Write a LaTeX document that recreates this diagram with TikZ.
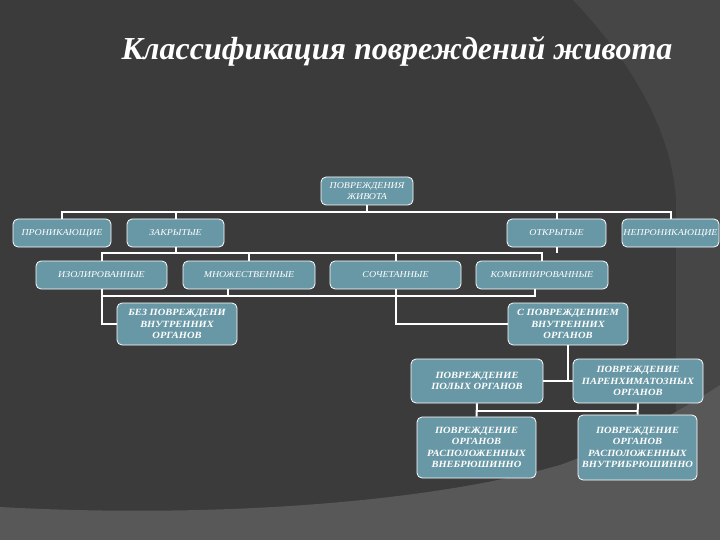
\documentclass[tikz,border=0pt]{standalone}
\usepackage{fontspec}
\setmainfont{Liberation Serif}
\newfontfamily\boxfont[FakeStretch=1.1]{Liberation Serif}
\definecolor{bgmain}{RGB}{59,59,59}
\definecolor{bgright}{RGB}{70,70,70}
\definecolor{bgbottom}{RGB}{88,88,88}
\definecolor{boxc}{RGB}{104,152,166}
\begin{document}
\begin{tikzpicture}[x=1pt,y=-1pt,
  box/.style={draw=white, line width=0.8pt, fill=boxc, rounded corners=5pt, text=white,
    align=center, inner sep=1pt, minimum height=28pt,
    font=\boxfont\itshape\fontsize{9}{10.5}\selectfont},
  boxb/.style={box, font=\boxfont\bfseries\itshape\fontsize{9.5}{11.5}\selectfont},
  conn/.style={draw=white, line width=2pt}]
\useasboundingbox (0,0) rectangle (720,540);
% background
\fill[bgmain] (0,0) rectangle (720,540);
\fill[bgright] (573,0) .. controls (630,60) and (672,130) .. (676,200) -- (676,540) -- (720,540) -- (720,0) -- cycle;
\fill[bgbottom] (0,507) .. controls (200,518) and (420,505) .. (560,465) .. controls (630,440) and (690,405) .. (720,385) -- (720,540) -- (0,540) -- cycle;
% title
\node[anchor=base, text=white, font=\bfseries\itshape\fontsize{32}{38}\selectfont] (title) at (397,60) {Классификация повреждений живота};
% boxes
\node[box, minimum width=92pt] (top) at (367,191) {ПОВРЕЖДЕНИЯ\\ЖИВОТА};
\node[box, minimum width=98pt] (pron) at (62,233) {ПРОНИКАЮЩИЕ};
\node[box, minimum width=97pt] (zakr) at (175.5,233) {ЗАКРЫТЫЕ};
\node[box, minimum width=99pt] (otkr) at (556.5,233) {ОТКРЫТЫЕ};
\node[box, minimum width=97pt] (nepr) at (670.5,233) {НЕПРОНИКАЮЩИЕ};
\node[box, minimum width=131pt] (izol) at (101.5,275) {ИЗОЛИРОВАННЫЕ};
\node[box, minimum width=132pt] (mn) at (249,275) {МНОЖЕСТВЕННЫЕ};
\node[box, minimum width=131pt] (soch) at (395.5,275) {СОЧЕТАННЫЕ};
\node[box, minimum width=132pt] (komb) at (542,275) {КОМБИНИРОВАННЫЕ};
\node[boxb, minimum width=120pt, minimum height=42pt] (bez) at (177,324) {БЕЗ ПОВРЕЖДЕНИ\\ВНУТРЕННИХ\\ОРГАНОВ};
\node[boxb, minimum width=120pt, minimum height=42pt] (spov) at (568,324) {С ПОВРЕЖДЕНИЕМ\\ВНУТРЕННИХ\\ОРГАНОВ};
\node[boxb, minimum width=132pt, minimum height=44pt] (polyh) at (477,381) {ПОВРЕЖДЕНИЕ\\ПОЛЫХ ОРГАНОВ};
\node[boxb, minimum width=130pt, minimum height=44pt] (par) at (638,381) {ПОВРЕЖДЕНИЕ\\ПАРЕНХИМАТОЗНЫХ\\ОРГАНОВ};
\node[boxb, minimum width=119pt, minimum height=61pt] (vnebr) at (476.5,447.5) {ПОВРЕЖДЕНИЕ\\ОРГАНОВ\\РАСПОЛОЖЕННЫХ\\ВНЕБРЮШИННО};
\node[boxb, minimum width=119pt, minimum height=65pt] (vnutr) at (637.5,447.5) {ПОВРЕЖДЕНИЕ\\ОРГАНОВ\\РАСПОЛОЖЕННЫХ\\ВНУТРИБРЮШИННО};
% connectors
\coordinate (r1) at (0,212);
\coordinate (r2) at (0,253);
\coordinate (r3) at (0,296);
\coordinate (r4) at (0,411);
\draw[conn] (top.south) -- (top.south |- r1);
\draw[conn] (pron.north) -- (pron.north |- r1) -| (nepr.north);
\draw[conn] (zakr.north) -- (zakr.north |- r1);
\draw[conn] (otkr.north) -- (otkr.north |- r1);
\draw[conn] (zakr.south) -- (zakr.south |- r2);
\draw[conn] (otkr.south) -- (otkr.south |- r2);
\draw[conn] (izol.north) -- (izol.north |- r2) -| (komb.north);
\draw[conn] (mn.north) -- (mn.north |- r2);
\draw[conn] (soch.north) -- (soch.north |- r2);
\draw[conn] (izol.south) |- (bez.west);
\draw[conn] (izol.south |- r3) -| ([xshift=-7pt]komb.south);
\draw[conn] ([xshift=-21pt]mn.south) -- ([xshift=-21pt]mn.south |- r3);
\draw[conn] (soch.south) |- (spov.west);
\draw[conn] (spov.south) |- (polyh.east);
\draw[conn] (polyh.east) -- (par.west);
\draw[conn] (polyh.south) -- (vnebr.north);
\draw[conn] (par.south) -- (vnutr.north);
\draw[conn] (polyh.south |- r4) -- (par.south |- r4);
\end{tikzpicture}
\end{document}
